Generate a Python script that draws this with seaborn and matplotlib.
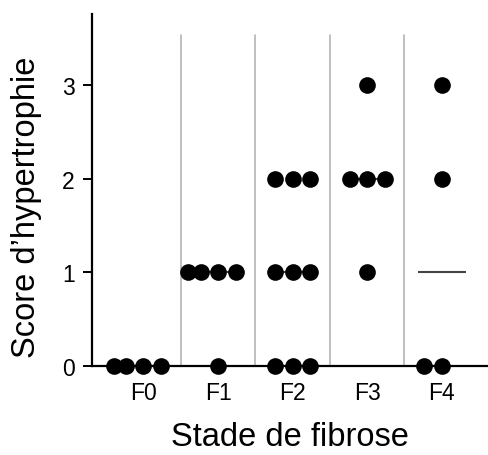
import numpy as np
import pandas as pd
import matplotlib
matplotlib.use('Agg')
import matplotlib.pyplot as plt
import seaborn as sns

# data
stages = ['F0', 'F1', 'F2', 'F3', 'F4']
f0_scores = [0, 0, 0, 0]
f1_scores = [1, 1, 1, 1, 0]
f2_scores = [2, 2, 2, 1, 1, 1, 0, 0, 0]
f3_scores = [3, 2, 2, 2, 1]
f4_scores = [3, 2, 0, 0]
y_ticks = [0, 1, 2, 3]

groups = [f0_scores, f1_scores, f2_scores, f3_scores, f4_scores]
df = pd.DataFrame({
    'stage': [s for s, g in zip(stages, groups) for _ in g],
    'score': [v for g in groups for v in g],
})

sns.set_style('white')
plt.rcParams['font.family'] = ['Liberation Sans', 'DejaVu Sans']
plt.rcParams['text.color'] = 'black'
plt.rcParams['axes.labelcolor'] = 'black'
plt.rcParams['xtick.color'] = 'black'
plt.rcParams['ytick.color'] = 'black'

fig = plt.figure(figsize=(4.88, 4.56), dpi=100)
ax = fig.add_axes([92 / 488, 89 / 456, 396 / 488, 352 / 456])

# light separators between the groups
for i in range(len(stages) - 1):
    ax.axvline(i + 0.5, ymin=0, ymax=0.94, color='#b4b4b4', lw=1.2, zorder=0)

# median bars (hidden behind dots except where the dots leave a gap)
medians = df.groupby('stage', sort=False)['score'].median()
for i, st in enumerate(stages):
    ax.hlines(medians[st], i - 0.32, i + 0.32, color='#444444', lw=1.5, zorder=1)

sns.swarmplot(data=df, x='stage', y='score', order=stages, color='black',
              size=12, linewidth=0, ax=ax, zorder=3, clip_on=False)

ax.set_xlim(-0.69, 4.62)
ax.set_ylim(0, 3.76)
ax.set_yticks(y_ticks)

for side in ['top', 'right']:
    ax.spines[side].set_visible(False)
for side in ['left', 'bottom']:
    ax.spines[side].set_color('black')
    ax.spines[side].set_linewidth(1.6)

ax.tick_params(axis='y', length=6.5, width=1.4, colors='black', pad=6,
               labelsize=16.5, left=True)
ax.tick_params(axis='x', length=0, pad=11, labelsize=16.5, colors='black')

ax.set_xlabel('Stade de fibrose', fontsize=23.5, labelpad=12, color='black')
ax.set_ylabel('Score d\u2019hypertrophie', fontsize=23.5, color='black')
ax.yaxis.set_label_coords(-0.125, 0.455)

fig.savefig('out.png', dpi=100)
